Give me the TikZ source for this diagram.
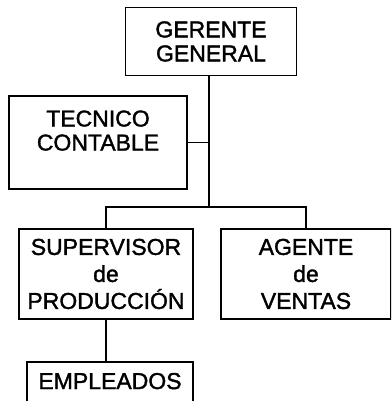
\documentclass[tikz,border=0pt]{standalone}
\usepackage{fontspec}
\setmainfont[FakeBold=1.5]{Liberation Sans}
\begin{document}
\begin{tikzpicture}[x=1pt,y=-1pt,
    caja/.style={draw, line width=1.6pt, align=center, inner sep=0pt,
      font=\fontsize{23}{24}\selectfont},
    alta/.style={font=\fontsize{23}{27}\selectfont},
    linea/.style={line width=1.6pt}]
    % Marco
    \useasboundingbox (0,0) rectangle (391,401);
    \clip (0,0) rectangle (391,401);

    % Cajas
    \node[caja, minimum width=171pt, minimum height=68pt] (gerente) at (211,41.5) {GERENTE\\GENERAL};
    \node[caja, minimum width=178pt, minimum height=93pt] (tecnico) at (98,142.5) {TECNICO\\CONTABLE\\};
    \node[caja, alta, minimum width=174pt, minimum height=90pt] (supervisor) at (106,274) {SUPERVISOR\\de\\PRODUCCIÓN};
    \node[caja, alta, minimum width=170pt, minimum height=90pt] (agente) at (306,274) {AGENTE\\de\\VENTAS};
    \node[caja, minimum width=166pt, minimum height=60pt] (empleados) at (110,392) {EMPLEADOS\\[-2pt]};

    % Conectores
    \coordinate (junta) at (209,207);
    \draw[linea] (gerente.south -| junta) -- (junta);
    \draw[linea] (tecnico.east) -- (tecnico.east -| junta);
    \draw[linea] (supervisor.north) |- (junta) -| (agente.north);
    \draw[linea] (supervisor.south) -- (supervisor.south |- empleados.north);

  \end{tikzpicture}
\end{document}
